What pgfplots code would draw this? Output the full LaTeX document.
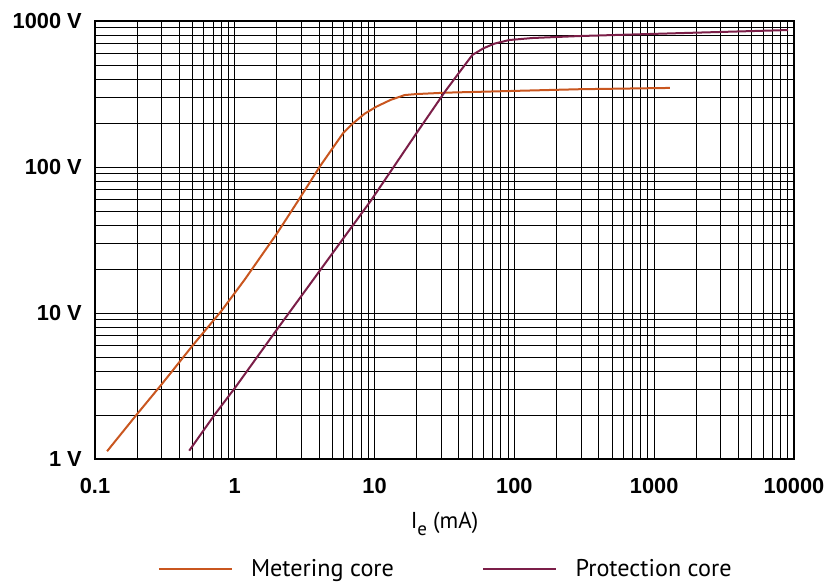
\documentclass[border=0pt]{standalone}
\usepackage{pgfplots}
\pgfplotsset{compat=1.18}
\usepackage{fontspec}
\setmainfont{PT Sans}
\newfontfamily\tickfont{Liberation Sans}
\definecolor{meter}{HTML}{C9561F}
\definecolor{prot}{HTML}{7B1E48}

\begin{document}
\begin{tikzpicture}
\begin{loglogaxis}[
  scale only axis, width=699bp, height=438bp,
  xmin=0.1, xmax=10000, ymin=1, ymax=1000,
  xtick={0.1,1,10,100,1000,10000},
  xticklabels={0.1,1,10,100,1000,10000},
  ytick={1,10,100,1000},
  yticklabels={1 V,10 V,100 V,1000 V},
  minor xtick={0.2,0.3,0.4,0.5,0.6,0.7,0.8,0.9,2,3,4,5,6,7,8,9,20,30,40,50,60,70,80,90,200,300,400,500,600,700,800,900,2000,3000,4000,5000,6000,7000,8000,9000},
  minor ytick={2,3,4,5,6,7,8,9,20,30,40,50,60,70,80,90,200,300,400,500,600,700,800,900},
  grid=both,
  major grid style={black, line width=0.9bp},
  minor grid style={black, line width=0.9bp},
  axis line style={black, line width=1.1bp},
  major tick length=0pt, minor tick length=0pt,
  tick style={draw=none},
  ticklabel style={font=\fontsize{21.8bp}{24bp}\tickfont\bfseries},
  xticklabel style={anchor=north, inner sep=0pt, yshift=-19bp},
  yticklabel style={anchor=east, inner sep=0pt, xshift=-13bp},
  xlabel={I\raisebox{-0.32em}{\fontsize{19bp}{19bp}\selectfont e} (mA)},
  xlabel style={font=\fontsize{23bp}{26bp}\selectfont, at={(axis description cs:0.5,0)}, anchor=base, inner sep=0pt, yshift=-69bp},
  legend style={at={(axis description cs:0.5,-0.2511)}, anchor=center, draw=none, fill=none,
    legend columns=2, font=\fontsize{24.2bp}{28bp}\selectfont,
    nodes={inner sep=0pt},
    /tikz/every even column/.append style={column sep=88bp},
    /tikz/every odd column/.append style={column sep=18bp}},
  legend image code/.code={\draw[#1, line width=2.6bp] (0bp,0bp) -- (73bp,0bp);},
]
\addplot[meter, line width=2bp, line join=round] coordinates {
 (0.122,1.13) (0.2,2.03) (0.3,3.25) (0.5,6.0) (0.8,10.3) (1.17,16.8) (2,35) (2.86,59.4)
 (4.05,100.5) (5.94,170) (7.0,199) (8.5,232) (10.3,259) (13,288) (16.4,311) (19.9,316)
 (32.5,323) (291,341) (1294,348)
};
\addlegendentry{Metering core}
\addplot[prot, line width=2bp, line join=round] coordinates {
 (0.472,1.14) (0.72,2.02) (1.01,3.1) (2.07,8.06) (2.91,12.6) (9.47,59.4) (19.9,170)
 (32,330) (40,440) (50,585) (60,650) (72,700) (92,741) (135,765) (291,789) (1986,832) (9060,867)
};
\addlegendentry{Protection core}
\end{loglogaxis}
\path (current axis.south west) ++(-95bp,-123bp) rectangle ++(830bp,582bp);
\end{tikzpicture}
\end{document}
